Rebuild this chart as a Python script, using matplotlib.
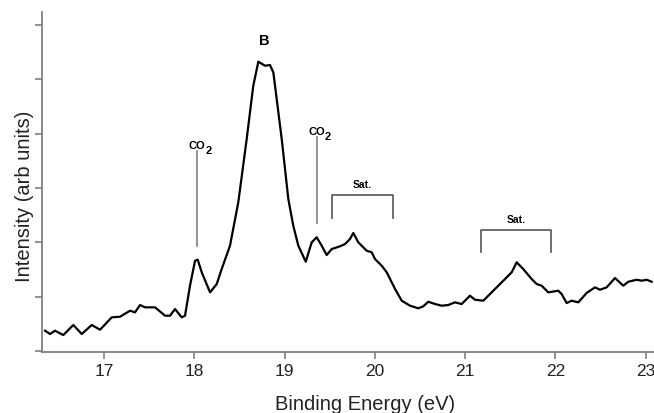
import matplotlib
matplotlib.use("Agg")
import matplotlib.pyplot as plt

plt.rcParams['font.family'] = ['Liberation Sans', 'DejaVu Sans']

# Binding energy (eV) and intensity (arb units)
energy = [16.347, 16.402, 16.457, 16.549, 16.660, 16.753, 16.864, 16.956, 17.085, 17.177,
          17.288, 17.343, 17.399, 17.454, 17.565, 17.676, 17.731, 17.786, 17.860, 17.897,
          17.952, 18.008, 18.038, 18.082, 18.174, 18.248, 18.303, 18.395, 18.487, 18.580,
          18.653, 18.709, 18.783, 18.838, 18.875, 18.968, 19.041, 19.096, 19.152, 19.234,
          19.300, 19.355, 19.411, 19.466, 19.522, 19.613, 19.669, 19.724, 19.761, 19.816,
          19.909, 19.964, 20.001, 20.075, 20.131, 20.223, 20.297, 20.389, 20.481, 20.536,
          20.591, 20.666, 20.740, 20.813, 20.887, 20.961, 21.053, 21.108, 21.200, 21.330,
          21.441, 21.515, 21.570, 21.643, 21.736, 21.792, 21.847, 21.920, 22.031, 22.068,
          22.124, 22.179, 22.252, 22.345, 22.437, 22.493, 22.567, 22.659, 22.751, 22.806,
          22.899, 22.955, 23.010, 23.065]
intensity = [0.374, 0.313, 0.374, 0.294, 0.479, 0.313, 0.479, 0.392, 0.620, 0.631,
             0.742, 0.712, 0.847, 0.804, 0.804, 0.650, 0.650, 0.773, 0.620, 0.650,
             1.202, 1.662, 1.680, 1.449, 1.080, 1.233, 1.509, 1.938, 2.737, 3.902,
             4.883, 5.325, 5.251, 5.264, 5.130, 3.902, 2.798, 2.306, 1.938, 1.644,
             2.001, 2.093, 1.938, 1.767, 1.877, 1.927, 1.969, 2.061, 2.172, 2.001,
             1.846, 1.817, 1.693, 1.570, 1.449, 1.141, 0.926, 0.834, 0.786, 0.823,
             0.907, 0.865, 0.834, 0.847, 0.896, 0.865, 1.018, 0.944, 0.926, 1.141,
             1.325, 1.449, 1.633, 1.509, 1.325, 1.233, 1.202, 1.080, 1.110, 1.049,
             0.883, 0.926, 0.896, 1.068, 1.172, 1.128, 1.172, 1.344, 1.202, 1.275,
             1.312, 1.294, 1.312, 1.275]

x_ticks = [17, 18, 19, 20, 21, 22, 23]
y_ticks = [0, 1, 2, 3, 4, 5, 6]

# annotations: CO2 marker lines (energy, bottom, top)
co2_lines = [(18.033, 1.94, 3.68), (19.355, 2.36, 3.94)]
# satellite brackets (start, end, bar level, leg bottom)
sat_brackets = [(19.522, 20.204, 2.877, 2.443), (21.172, 21.950, 2.233, 1.817)]
peak_label = ("B", 18.775, 5.72)

W, H = 654, 414
fig = plt.figure(figsize=(W / 100, H / 100), dpi=100)
ax = fig.add_axes([42 / W, (H - 353) / H, (W - 42) / W, (353 - 13) / H])

ax.plot(energy, intensity, color='black', lw=1.6, solid_joinstyle='round')

ax.set_xlim(16.313, 23.091)
ax.set_ylim(-0.018, 6.24)
ax.set_xticks(x_ticks)
ax.set_yticks(y_ticks)
ax.set_yticklabels([])

gray = '#808080'
for s in ['top', 'right']:
    ax.spines[s].set_visible(False)
for s in ['left', 'bottom']:
    ax.spines[s].set_color(gray)
    ax.spines[s].set_linewidth(1.3)
ax.tick_params(axis='both', direction='out', color=gray, width=1.2, length=5)
ax.tick_params(axis='x', labelsize=12.5, pad=3, labelcolor='#222222')

ax.set_xlabel('Binding Energy (eV)', fontsize=14.5, color='#222222')
ax.set_ylabel('Intensity (arb units)', fontsize=14.5, color='#222222')
ax.xaxis.set_label_coords((365 - 42) / (W - 42), -(395 - 353) / (353 - 13))
ax.yaxis.set_label_coords(-(42 - 34) / (W - 42), (353 - 196) / (353 - 13))

for e, lo, hi in co2_lines:
    ax.plot([e, e], [lo, hi], color=gray, lw=1.2)
    ax.annotate('CO', xy=(e, hi), xytext=(0, 3), textcoords='offset pixels',
                ha='center', va='baseline', fontsize=8, fontweight='bold')
    ax.annotate('2', xy=(e, hi), xytext=(11, -2), textcoords='offset pixels',
                ha='center', va='baseline', fontsize=8, fontweight='bold')

for a, b, lvl, bot in sat_brackets:
    ax.plot([a, a, b, b], [bot, lvl, lvl, bot], color='#555555', lw=1.2)
    ax.text((a + b) / 2, lvl + 0.1, 'Sat.', ha='center', va='bottom', fontsize=7.5, fontweight='bold')

ax.text(peak_label[1], peak_label[2], peak_label[0], ha='center', va='center', fontsize=10.5, fontweight='bold')

fig.savefig('out.png', dpi=100)
